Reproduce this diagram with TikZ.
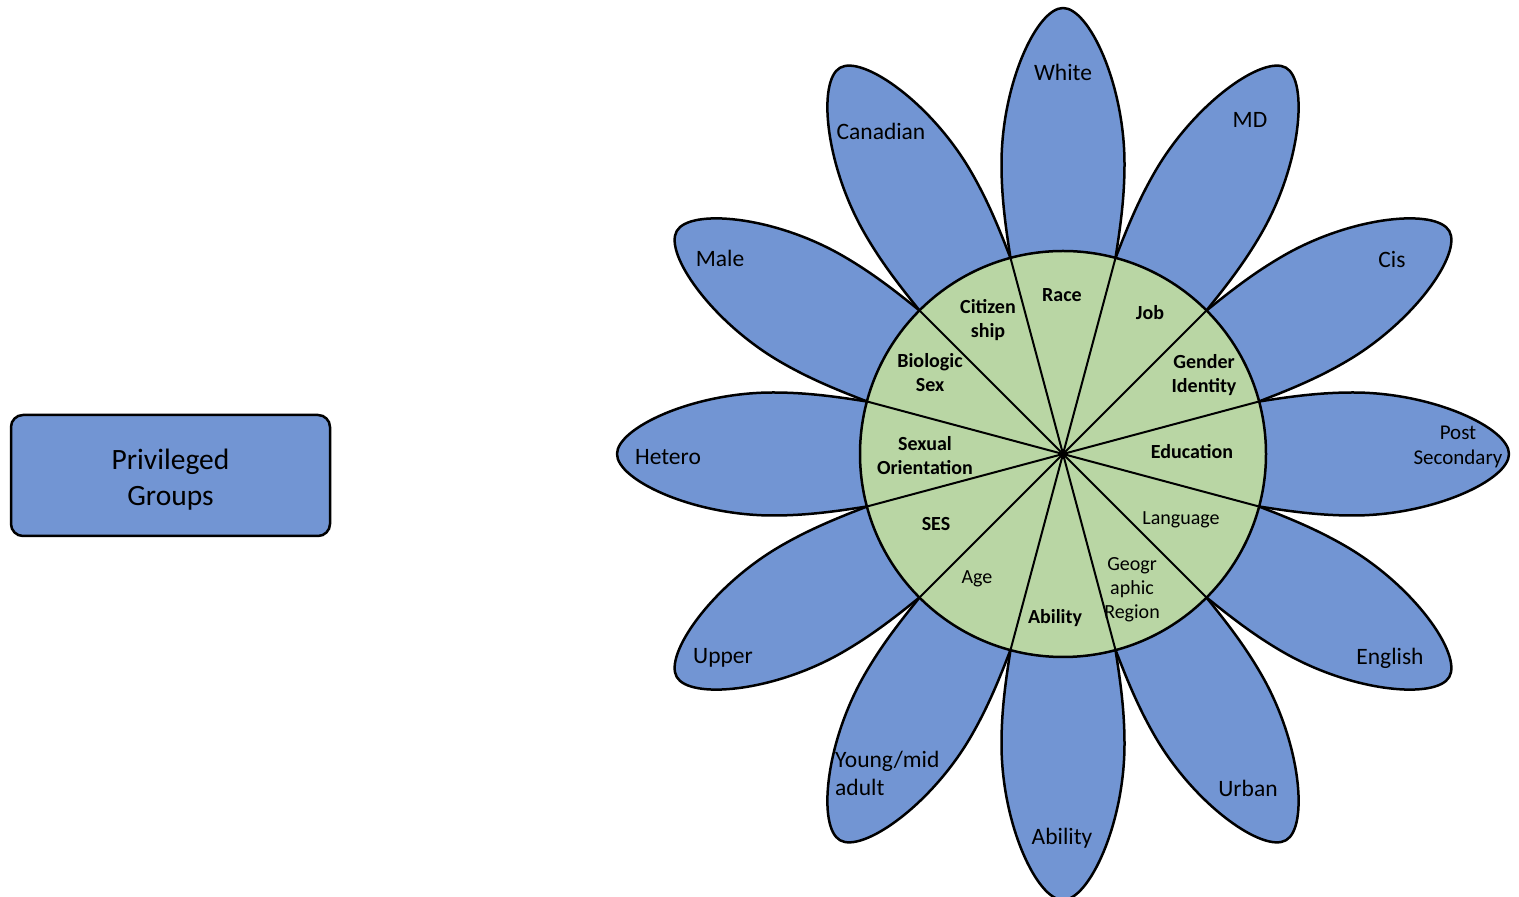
\documentclass[tikz,border=0pt]{standalone}
\usepackage{fontspec}
\setmainfont{Carlito}
\usepackage{tikz}
\usetikzlibrary{positioning,calc}
\definecolor{petalblue}{RGB}{114,149,211}
\definecolor{discgreen}{RGB}{185,214,164}
\tikzstyle{petal}=[draw=black,fill=petalblue,line width=2.5pt,line join=round]
\tikzstyle{petaltext}=[font=\fontsize{23.5}{28}\selectfont,align=center,inner sep=0pt]
\tikzstyle{wedgetext}=[font=\fontsize{20}{24}\selectfont,align=center,inner sep=0pt]
\tikzstyle{wedgebold}=[wedgetext,font=\fontsize{20}{24}\selectfont\bfseries]

\begin{document}
\begin{tikzpicture}[x=1pt,y=1pt]
\useasboundingbox (0,0) rectangle (1519,897);
\coordinate (ctr) at (1063,443);
% petals, one every 30 degrees
\foreach \a in {0,30,...,330}{
  \begin{scope}[shift={(ctr)},rotate=\a]
    \draw[petal] (196,52.5) .. controls (225,57) and (255,61.5) .. (290,61.5)
      .. controls (370,61.5) and (446,26) .. (446,0)
      .. controls (446,-26) and (370,-61.5) .. (290,-61.5)
      .. controls (255,-61.5) and (225,-57) .. (196,-52.5) -- cycle;
  \end{scope}
}
% the disc and its wedges
\node[circle,draw,fill=discgreen,line width=2.5pt,minimum size=406pt,inner sep=0pt] (disc) at (ctr) {};
\foreach \a in {15,45,...,345}
  \draw[line width=2pt] (disc.center) -- (disc.\a);

% wedge labels
\node[wedgebold] (race) at (1062,602) {Race};
\node[wedgebold] (job) at (1150,584) {Job};
\node[wedgebold] (gender) at (1204,522) {Gender\\Identity};
\node[wedgebold] (educ) at (1192,445) {Education};
\node[wedgetext] (lang) at (1181,377) {Language};
\node[wedgetext] (geo) at (1132,307) {Geogr\\aphic\\Region};
\node[wedgebold] (abil) at (1055,279) {Ability};
\node[wedgetext] (age) at (977,318) {Age};
\node[wedgebold] (ses) at (936,373) {SES};
\node[wedgebold] (sexor) at (925,441) {Sexual\\Orientation};
\node[wedgebold] (biosex) at (930,524) {Biologic\\Sex};
\node[wedgebold] (citiz) at (988,577) {Citizen\\ship};

% petal labels
\node[petaltext] (white) at (1063,825) {White};
\node[petaltext] (md) at (1250,777) {MD};
\node[petaltext] (cis) at (1392,637) {Cis};
\node[petaltext,font=\fontsize{21}{25}\selectfont] (postsec) at (1458,450) {Post\\Secondary};
\node[petaltext] (english) at (1390,239) {English};
\node[petaltext] (urban) at (1248,109) {Urban};
\node[petaltext] (ability) at (1062,59) {Ability};
\node[petaltext,align=left,anchor=west] (young) at (835,124) {Young/mid\\adult};
\node[petaltext] (upper) at (723,239) {Upper};
\node[petaltext] (hetero) at (668,440) {Hetero};
\node[petaltext] (male) at (720,639) {Male};
\node[petaltext] (canadian) at (881,766) {Canadian};

% legend box
\node[draw,fill=petalblue,rounded corners=12pt,line width=2.5pt,minimum width=319pt,minimum height=121pt] (privileged) at (170.5,421.5) {};
\node[font=\fontsize{29.5}{36}\selectfont,align=center] (privtext) at ([yshift=-4pt]privileged.center) {Privileged\\Groups};
\end{tikzpicture}
\end{document}
